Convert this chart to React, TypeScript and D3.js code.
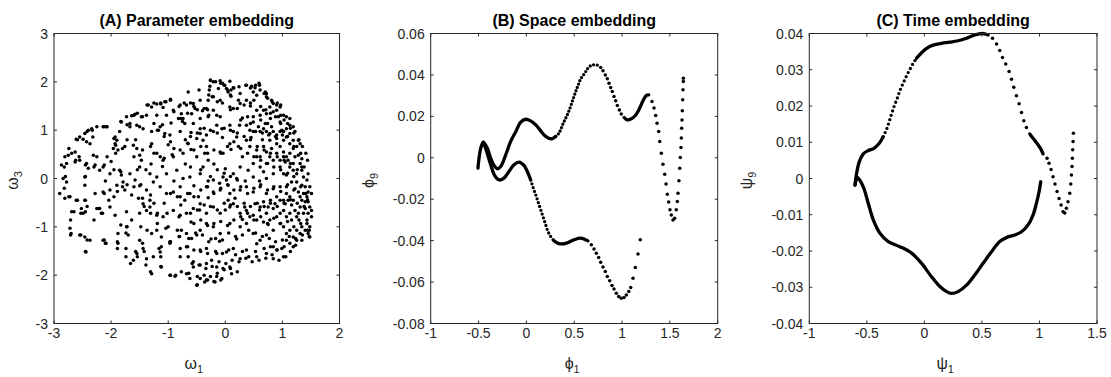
import React from 'react';
import * as d3 from 'd3';

type Pt = [number, number];

const WIDTH = 1111;
const HEIGHT = 377;
const TOP = 33.5;
const BOTTOM = 323.5;
const INK = '#262626';
const FONT = '"Liberation Sans", Arial, Helvetica, sans-serif';

// ---- (A) parameter embedding: omega_1 vs omega_3 scatter
const paramXTicks = [-3, -2, -1, 0, 1, 2];
const paramYTicks = [-3, -2, -1, 0, 1, 2, 3];
const paramPoints: Pt[] = [
  [-0.26, 2.03], [-0.21, 2.0], [-0.09, 2.02], [-0.05, 1.97], [-0.01, 1.93], [0.08, 2.01], [0.14, 1.88], [0.1, 1.83],
  [-0.12, 1.86], [0.02, 1.86], [0.05, 1.79], [-0.27, 1.91], [-0.28, 1.83], [0.37, 1.93], [0.46, 1.91], [0.52, 1.88],
  [0.6, 1.93], [0.61, 1.83], [0.55, 1.72], [0.7, 1.79], [0.72, 1.76], [0.49, 1.79], [0.26, 1.76], [0.23, 1.62],
  [0.37, 1.62], [-0.46, 1.83], [-0.65, 1.79], [-0.09, 1.62], [-0.21, 1.69], [-0.44, 1.62], [-0.3, 1.62],
  [-0.96, 1.64], [-1.06, 1.59], [-1.2, 1.54], [-1.13, 1.54], [-1.29, 1.48], [-1.35, 1.52], [-1.09, 1.47], [-0.79, 1.52],
  [-0.68, 1.52], [-0.56, 1.55], [-0.53, 1.45], [-0.33, 1.45], [-0.21, 1.41], [-0.15, 1.31], [0.08, 1.48], [0.14, 1.45],
  [0.26, 1.55], [0.44, 1.5], [0.55, 1.41], [0.72, 1.69], [0.81, 1.62], [0.84, 1.55], [0.9, 1.52], [0.96, 1.48],
  [0.78, 1.48], [0.67, 1.41], [-0.59, 1.34], [-0.77, 1.34], [-0.82, 1.24], [-0.74, 1.24], [-0.91, 1.41], [-1.03, 1.31],
  [-1.2, 1.31], [-1.38, 1.31], [-1.47, 1.28], [-1.58, 1.33], [-1.64, 1.3], [-1.73, 1.28], [-1.82, 1.17], [-1.67, 1.14],
  [-1.55, 1.1], [-0.44, 1.24], [-0.3, 1.28], [-0.09, 1.28],
  [-2.4, 1.0], [-2.34, 1.03], [-2.25, 1.07], [-2.14, 1.07], [-2.08, 1.07], [-2.46, 0.93], [-2.55, 0.86], [-2.61, 0.81],
  [-2.49, 0.81], [-2.43, 0.76], [-2.37, 0.72], [-2.32, 0.86], [-1.93, 0.86], [-1.9, 0.79], [-1.85, 0.97], [-1.67, 1.07],
  [-1.5, 1.07], [-1.44, 1.03], [-1.29, 0.97], [-1.17, 1.0], [-1.14, 1.07], [-1.06, 0.93], [-0.97, 0.9], [-0.79, 0.97],
  [-0.71, 1.14], [-0.56, 1.14], [-0.44, 1.03], [-0.44, 0.93], [-0.33, 0.9], [-0.21, 0.97], [-0.06, 1.03], [0.08, 1.1],
  [0.14, 0.97], [0.2, 0.86], [0.37, 1.1], [0.43, 1.0], [0.49, 0.97], [0.61, 0.97], [0.67, 1.03], [0.72, 0.97],
  [0.78, 0.93], [0.84, 0.97], [0.9, 0.9], [0.99, 1.0], [1.07, 1.03], [1.13, 1.1], [1.19, 1.07], [0.93, 1.28],
  [1.02, 1.31], [1.07, 1.28], [1.13, 1.24], [0.96, 1.17],
  [-2.81, 0.45], [-2.75, 0.48], [-2.69, 0.52], [-2.63, 0.55], [-2.78, 0.31], [-2.63, 0.34], [-2.55, 0.38], [-2.43, 0.31],
  [-2.4, 0.21], [-2.28, 0.28], [-2.2, 0.17], [-2.25, 0.45], [-2.31, 0.48], [-1.93, 0.72], [-1.96, 0.62], [-1.88, 0.59],
  [-1.76, 0.66], [-1.61, 0.69], [-1.55, 0.62], [-1.5, 0.48], [-1.47, 0.38], [-1.29, 0.72], [-1.2, 0.52], [-1.14, 0.45],
  [-1.09, 0.38], [-0.91, 0.45], [-0.79, 0.59], [-0.74, 0.52], [-0.65, 0.72], [-0.5, 0.83], [-0.39, 0.79], [-0.33, 0.66],
  [-0.36, 0.52], [-0.3, 0.38], [-0.09, 0.55], [-0.04, 0.52], [0.08, 0.72], [0.23, 0.66], [0.37, 0.79], [0.43, 0.66],
  [0.55, 0.59], [0.61, 0.45], [0.72, 0.55], [0.78, 0.45], [0.9, 0.72], [0.96, 0.66], [1.02, 0.55], [1.07, 0.45],
  [1.13, 0.52], [1.19, 0.62], [1.25, 0.66], [1.31, 0.72], [1.28, 0.48], [1.34, 0.41], [1.22, 0.45], [0.96, 0.38],
  [1.05, 0.34],
  [-2.87, 0.28], [-2.84, 0.0], [-2.78, -0.07], [-2.9, -0.31], [-2.81, -0.41], [-2.46, 0.03], [-2.46, -0.14], [-2.14, 0.24],
  [-2.02, 0.1], [-1.85, 0.17], [-1.82, 0.07], [-1.79, -0.07], [-1.67, 0.1], [-1.58, -0.03], [-1.5, 0.24], [-1.32, 0.1],
  [-1.26, -0.07], [-1.2, 0.03], [-1.03, 0.1], [-0.85, 0.17], [-0.74, 0.0], [-0.62, 0.03], [-0.44, 0.1], [-0.39, 0.24],
  [-0.21, -0.03], [-0.04, 0.03], [0.02, -0.03], [0.05, -0.14], [0.14, 0.1], [0.26, 0.24], [0.4, 0.17], [0.49, 0.03],
  [0.67, 0.14], [0.72, 0.0], [0.84, 0.1], [0.96, 0.24], [1.02, 0.1], [1.13, 0.24], [1.19, 0.17], [1.07, 0.07],
  [1.25, 0.1], [1.34, 0.17], [1.37, 0.03], [1.43, -0.03], [1.45, 0.1],
  [-2.72, -0.38], [-2.61, -0.45], [-2.46, -0.45], [-2.28, -0.31], [-2.14, -0.28], [-2.02, -0.24], [-1.9, -0.14], [-1.76, -0.24],
  [-1.64, -0.34], [-1.52, -0.41], [-1.44, -0.52], [-1.32, -0.45], [-1.38, -0.24], [-1.14, -0.17], [-1.03, -0.31], [-0.91, -0.28],
  [-0.79, -0.17], [-0.79, -0.38], [-0.71, -0.45], [-0.62, -0.31], [-0.47, -0.38], [-0.33, -0.17], [-0.21, -0.28], [-0.09, -0.24],
  [0.08, -0.31], [0.17, -0.41], [0.26, -0.24], [0.37, -0.17], [0.49, -0.28], [0.61, -0.17], [0.72, -0.31], [0.84, -0.21],
  [0.96, -0.17], [1.07, -0.31], [1.13, -0.38], [1.22, -0.21], [1.28, -0.28], [1.37, -0.31], [1.43, -0.38], [1.45, -0.48],
  [1.48, -0.59], [1.4, -0.17], [1.19, -0.45],
  [-2.69, -0.69], [-2.52, -0.62], [-2.49, -0.72], [-2.25, -0.62], [-2.2, -0.62], [-2.17, -0.72], [-2.02, -0.59], [-1.93, -0.76],
  [-1.73, -0.69], [-1.64, -0.86], [-1.5, -0.72], [-1.38, -0.66], [-1.32, -0.59], [-1.2, -0.76], [-1.09, -0.79], [-0.91, -0.66],
  [-0.79, -0.76], [-0.68, -0.72], [-0.56, -0.62], [-0.44, -0.52], [-0.33, -0.72], [-0.21, -0.59], [-0.09, -0.72], [0.08, -0.59],
  [0.14, -0.52], [0.26, -0.72], [0.37, -0.66], [0.49, -0.76], [0.61, -0.59], [0.72, -0.72], [0.84, -0.62], [0.96, -0.72],
  [1.07, -0.79], [1.16, -0.86], [1.25, -0.79], [1.37, -0.72], [1.43, -0.86], [1.51, -0.79],
  [-2.72, -1.03], [-2.7, -1.14], [-2.55, -1.17], [-2.46, -1.21], [-2.37, -1.28], [-2.44, -1.52], [-2.14, -1.28], [-2.09, -1.34],
  [-1.88, -1.14], [-1.73, -1.0], [-1.7, -1.17], [-1.5, -1.28], [-1.29, -1.14], [-1.2, -1.07], [-1.12, -1.21], [-0.97, -1.31],
  [-0.77, -1.07], [-0.68, -1.14], [-0.59, -1.24], [-0.5, -1.17], [-0.44, -1.07], [-0.33, -0.93], [-0.21, -1.0], [-0.09, -1.14],
  [0.08, -0.93], [0.26, -1.0], [0.37, -0.93], [0.49, -1.14], [0.61, -1.28], [0.72, -1.17], [0.84, -1.07], [0.96, -0.93],
  [1.02, -1.0], [1.07, -1.14], [1.13, -1.07], [1.19, -1.21], [1.25, -1.07], [1.34, -1.0], [1.45, -1.14], [1.48, -1.21],
  [1.07, -1.28], [1.19, -1.41],
  [-1.88, -1.34], [-1.74, -1.62], [-1.55, -1.55], [-1.44, -1.45], [-1.26, -1.62], [-1.14, -1.52], [-1.12, -1.41], [-0.97, -1.34],
  [-0.79, -1.45], [-0.68, -1.41], [-0.65, -1.62], [-0.56, -1.72], [-0.44, -1.48], [-0.33, -1.45], [-0.15, -1.55], [0.02, -1.52],
  [0.14, -1.45], [0.26, -1.66], [0.37, -1.48], [0.55, -1.62], [0.72, -1.55], [0.84, -1.41], [0.9, -1.48], [0.99, -1.45],
  [1.02, -1.62], [0.84, -1.66], [-0.79, -1.62],
  [-1.61, -1.69], [-1.38, -1.66], [-1.29, -1.97], [-1.12, -1.83], [-0.97, -2.0], [-0.88, -2.02], [-0.77, -1.93], [-0.68, -1.97],
  [-0.56, -1.83], [-0.44, -1.79], [-0.33, -1.76], [-0.24, -1.69], [-0.15, -1.83], [-0.04, -1.86], [0.08, -1.83], [0.11, -1.97],
  [-0.15, -2.03], [-0.33, -2.1], [-0.44, -2.07], [-0.5, -2.21], [-0.36, -2.14], [-0.18, -2.14], [-0.06, -2.07], [-0.62, -2.07],
  [1.34, -0.45], [1.31, -0.59], [1.4, -0.62], [1.28, -0.72], [1.22, -0.66], [1.16, -0.55], [1.1, -0.45], [1.05, -0.52],
  [0.96, -0.45], [0.9, -0.38], [0.79, -0.45], [1.07, -0.17], [1.16, -0.07], [1.25, -0.07], [1.34, -0.14], [1.48, -0.17],
  [1.51, -0.31], [1.45, -0.28], [1.34, 0.24], [1.31, 0.31], [1.19, 0.31], [1.1, 0.38], [1.02, 0.45], [0.9, 0.52],
  [0.81, 0.62], [0.84, 0.38], [0.72, 0.31], [0.61, 0.24], [0.49, 0.31], [0.55, 0.45], [0.67, 0.66], [0.78, 0.79],
  [0.9, 0.83], [1.02, 0.79], [1.07, 0.86], [1.19, 0.79], [1.28, 0.79], [1.13, 0.72], [0.96, 0.97], [0.81, 1.07],
  [0.7, 1.14], [0.58, 1.07], [0.49, 1.17], [0.49, 1.28], [0.61, 1.31], [0.72, 1.34], [0.84, 1.38], [0.9, 1.41],
  [0.79, 1.24], [1.02, 0.97], [1.13, 0.93], [1.22, 0.97], [1.48, -1.0], [1.47, -1.07], [1.43, -0.93], [1.31, -1.14],
  [1.25, -1.28], [1.13, -1.34], [1.34, -1.28], [1.4, -1.07], [1.29, -0.86], [1.13, -0.72], [1.02, -0.66], [0.9, -0.79],
  [0.78, -0.86], [0.67, -0.9], [0.55, -0.86], [0.43, -0.79], [0.34, -0.59], [0.52, -0.52], [0.67, -0.48], [0.75, -0.59],
  [0.87, -0.52], [1.02, -0.45], [1.31, -0.38], [1.4, -0.48], [1.45, -0.72], [1.51, -0.66],
  [-0.6, 0.6], [-0.5, 0.45], [-0.2, 0.3], [0.0, 0.2], [0.3, 0.45], [0.2, 0.0], [-0.1, -0.1], [0.35, -0.05],
  [0.6, -0.05], [-0.3, -0.05], [-0.55, -0.15], [-0.9, -0.05], [-1.1, 0.25], [-0.7, 0.3], [-0.05, 0.85], [0.45, 0.85],
  [0.3, 1.25], [-0.15, 1.1], [-0.6, 0.95], [-0.95, 1.15], [-1.3, 0.3], [-1.6, 0.45], [-2.0, 0.35], [-2.1, -0.05],
  [-1.5, -0.15], [-0.45, -0.65], [0.05, -0.45], [0.3, -0.85], [-0.1, -1.3], [0.2, -1.25], [0.55, -1.35], [-0.25, -1.25],
  [-0.6, -0.9], [-1.0, -1.0], [-0.3, -0.4], [0.0, -0.65], [0.6, -0.65], [-0.8, -1.2], [0.75, -0.95], [0.1, 0.6],
  [-0.4, 1.4], [0.1, 1.7], [-0.7, 0.8], [-1.0, 0.7], [0.65, 0.8], [0.25, 1.1],
];
// second pass over the denser right half
const paramPointsRight: Pt[] = [
  [-0.26, 2.04], [-0.17, 2.0], [-0.08, 1.97], [-0.02, 1.93], [0.04, 1.83], [0.09, 1.73], [0.15, 1.87], [0.24, 1.9],
  [0.36, 1.93], [0.44, 1.87], [0.53, 1.93], [0.59, 1.97], [0.68, 1.76], [0.74, 1.66], [0.82, 1.59], [0.91, 1.56],
  [0.97, 1.52], [-0.29, 1.73], [-0.23, 1.69], [-0.14, 1.59], [-0.05, 1.56], [-0.61, 1.56], [-0.55, 1.49], [-0.66, 1.35],
  [-0.49, 1.42], [-0.37, 1.45], [-0.31, 1.42], [-0.29, 1.31], [0.09, 1.42], [0.21, 1.45], [0.33, 1.52], [0.44, 1.56],
  [0.5, 1.62], [0.62, 1.49], [0.71, 1.42], [0.79, 1.35], [0.88, 1.28], [0.97, 1.31], [1.03, 1.21], [1.09, 1.14],
  [1.14, 1.04], [1.2, 0.94], [1.29, 0.8], [1.35, 0.66], [1.41, 0.52], [1.44, 0.38], [1.38, 0.24], [1.26, 0.18],
  [1.14, 0.31], [1.03, 0.38], [0.91, 0.45], [0.79, 0.52], [0.68, 0.59], [0.56, 0.66], [0.44, 0.8], [0.33, 0.87],
  [0.21, 0.94], [0.09, 1.0], [-0.02, 1.04], [-0.14, 0.94], [-0.26, 1.0], [-0.37, 1.04], [-0.49, 0.94], [-0.61, 0.87],
  [-0.66, 0.73], [-0.55, 0.59], [-0.43, 0.66], [-0.31, 0.52], [-0.2, 0.59], [-0.08, 0.52], [0.04, 0.66], [0.15, 0.76],
  [0.27, 0.62], [0.39, 0.52], [0.5, 0.45], [0.62, 0.38], [0.74, 0.31], [0.85, 0.24], [0.97, 0.18], [1.09, 0.11],
  [1.2, 0.04], [-0.14, 0.18], [-0.02, 0.11], [0.09, 0.04], [0.21, -0.03], [-0.26, 0.04], [-0.43, 0.18], [-0.61, 0.24],
  [0.53, 0.97], [0.65, 0.94], [0.76, 0.9], [0.88, 0.87], [1.0, 0.9], [1.09, 0.87], [1.2, 0.66], [1.32, 0.52],
  [0.97, 1.14], [0.74, 1.14], [0.62, 1.21], [0.44, 1.14], [0.39, 1.28], [0.27, 1.21],
  [-0.66, -0.31], [-0.55, -0.38], [-0.43, -0.24], [-0.31, -0.17], [-0.2, -0.31], [-0.08, -0.2], [0.04, -0.13], [0.15, -0.24],
  [0.27, -0.17], [0.39, -0.31], [0.5, -0.2], [0.62, -0.13], [0.74, -0.24], [0.85, -0.17], [0.97, -0.27], [1.09, -0.13],
  [1.2, -0.24], [1.32, -0.17], [1.41, -0.31], [1.44, -0.44], [1.38, -0.58], [1.26, -0.51], [1.14, -0.44], [1.03, -0.51],
  [0.91, -0.58], [0.79, -0.51], [0.68, -0.58], [0.56, -0.51], [0.44, -0.58], [0.33, -0.51], [0.21, -0.58], [0.09, -0.55],
  [-0.02, -0.51], [-0.14, -0.65], [-0.26, -0.58], [-0.37, -0.55], [-0.49, -0.65], [-0.61, -0.72], [-0.55, -0.93], [-0.43, -0.86],
  [-0.31, -0.97], [-0.2, -0.93], [-0.08, -0.89], [0.04, -0.97], [0.15, -0.86], [0.27, -0.79], [0.39, -0.72], [0.5, -0.86],
  [0.62, -0.79], [0.74, -0.93], [0.85, -0.82], [0.97, -0.93], [1.09, -0.89], [1.2, -1.0], [1.32, -0.93], [1.44, -1.07],
  [1.47, -1.2], [1.35, -1.17], [1.23, -1.24], [1.12, -1.2], [1.0, -1.27], [0.88, -1.31], [0.77, -1.24], [0.65, -1.2],
  [0.53, -1.13], [0.41, -1.07], [0.3, -1.17], [0.18, -1.2], [0.06, -1.13], [-0.05, -1.27], [-0.17, -1.24], [-0.29, -1.31],
  [-0.4, -1.17], [-0.52, -1.13], [-0.64, -1.24], [-0.66, -1.41], [-0.55, -1.48], [-0.43, -1.51], [-0.31, -1.55], [-0.17, -1.51],
  [-0.05, -1.55], [0.06, -1.48], [0.18, -1.58], [0.3, -1.51], [0.41, -1.62], [0.53, -1.51], [0.68, -1.45], [0.79, -1.41],
  [0.91, -1.48], [1.03, -1.41], [1.14, -1.51], [1.23, -1.38], [1.06, -1.62], [0.94, -1.69], [0.82, -1.58], [0.71, -1.65],
  [0.59, -1.69], [0.47, -1.72], [0.36, -1.65], [0.24, -1.72], [0.12, -1.69], [0.01, -1.76], [-0.11, -1.72], [-0.23, -1.82],
  [-0.34, -1.86], [-0.46, -1.79], [-0.58, -1.76], [-0.64, -1.96], [-0.49, -2.03], [-0.37, -2.0], [-0.26, -2.03], [-0.14, -1.96],
  [-0.02, -1.89], [0.09, -1.86], [0.21, -1.93], [-0.08, -2.1], [-0.2, -2.13], [-0.31, -2.1], [-0.49, -2.2],
];
// second pass over the sparser left half
const paramPointsLeft: Pt[] = [
  [-2.82, 0.24], [-2.74, 0.62], [-2.62, 0.38], [-2.59, 0.8], [-2.42, 0.97], [-2.33, 1.0], [-2.12, 1.07], [-2.07, 1.07],
  [-1.95, 0.83], [-1.92, 0.69], [-1.83, 1.18], [-1.72, 1.11], [-1.6, 1.31], [-1.54, 1.35], [-1.45, 1.28], [-1.37, 1.52],
  [-1.25, 1.56], [-1.13, 1.56], [-1.04, 1.59], [-0.96, 1.62], [-0.9, 1.38], [-0.81, 1.49], [-0.78, 1.24], [-0.75, 1.18],
  [-0.72, 1.56], [-1.25, 1.14], [-1.19, 1.0], [-1.1, 1.11], [-1.07, 0.87], [-0.96, 0.76], [-0.9, 0.62], [-0.93, 0.49],
  [-1.07, 0.42], [-1.25, 0.52], [-1.31, 0.66], [-1.45, 0.59], [-1.57, 0.8], [-1.72, 0.8], [-1.8, 0.62], [-1.92, 0.52],
  [-2.07, 0.45], [-2.12, 0.28], [-2.3, 0.24], [-2.45, 0.28], [-2.56, 0.45], [-2.8, 0.04], [-2.45, 0.04], [-1.95, 0.18],
  [-1.83, 0.14], [-1.54, 0.18], [-1.39, 0.18],
  [-2.82, -0.2], [-2.74, -0.38], [-2.59, -0.45], [-2.45, -0.45], [-2.42, -0.58], [-2.65, -0.69], [-2.53, -0.72], [-2.45, -0.69],
  [-2.71, -0.86], [-2.71, -1.17], [-2.53, -1.17], [-2.42, -1.27], [-2.45, -1.51], [-2.21, -0.62], [-2.15, -0.72], [-2.12, -0.31],
  [-2.04, -0.45], [-1.95, -0.38], [-1.89, -0.27], [-1.8, -0.17], [-1.72, -0.13], [-1.6, -0.17], [-1.48, -0.13], [-1.45, -0.41],
  [-1.42, -0.58], [-1.31, -0.34], [-1.25, -0.51], [-1.19, -0.72], [-1.07, -0.51], [-1.02, -0.72], [-0.96, -0.31], [-0.84, -0.38],
  [-0.78, -0.55], [-0.81, -0.79], [-0.84, -1.07], [-0.81, -1.2], [-0.96, -1.31], [-1.04, -1.03], [-1.19, -0.93], [-1.31, -0.72],
  [-1.37, -1.07], [-1.48, -1.0], [-1.72, -1.0], [-1.83, -0.96], [-1.74, -1.13], [-1.89, -1.31], [-1.89, -1.45], [-1.74, -1.45],
  [-1.57, -1.51], [-1.45, -1.34], [-1.42, -1.51], [-1.54, -1.62], [-1.66, -1.76], [-1.39, -1.79], [-1.31, -1.93], [-1.13, -1.82],
  [-1.16, -1.45], [-1.13, -1.62], [-0.96, -2.0], [-0.87, -2.0], [-2.3, -0.86], [-2.12, -1.27], [-2.1, -1.34],
];

// ---- (B) space embedding: phi_1 vs phi_9
const spaceXTicks = [-1, -0.5, 0, 0.5, 1, 1.5, 2];
const spaceYTicks = [-0.08, -0.06, -0.04, -0.02, 0, 0.02, 0.04, 0.06];
const spaceUpperSolid: Pt[] = [
  [-0.506, -0.005], [-0.495, -0.0002], [-0.477, 0.0046], [-0.45, 0.0076], [-0.408, 0.0046], [-0.373, -0.0002],
  [-0.338, -0.0037], [-0.304, -0.0053], [-0.268, -0.0042], [-0.216, 0.0014], [-0.164, 0.0079], [-0.112, 0.0125],
  [-0.059, 0.0172], [-0.007, 0.0186], [0.045, 0.0178], [0.098, 0.0159], [0.15, 0.013], [0.202, 0.0103],
  [0.261, 0.0091], [0.306, 0.0103],
];
const spaceUpperFine: Pt[] = [
  [0.306, 0.0103], [0.341, 0.0119], [0.365, 0.0143], [0.386, 0.0167], [0.411, 0.0191], [0.435, 0.0215],
  [0.456, 0.024], [0.48, 0.0272], [0.498, 0.0296], [0.522, 0.0328], [0.543, 0.0352], [0.568, 0.0381],
  [0.61, 0.0408], [0.644, 0.0433], [0.679, 0.0446], [0.714, 0.0449], [0.749, 0.0446],
];
const spaceUpperDots: Pt[] = [
  [0.777, 0.0436], [0.801, 0.042], [0.825, 0.04], [0.846, 0.0381], [0.864, 0.036], [0.881, 0.0339],
  [0.898, 0.032], [0.916, 0.0296], [0.934, 0.0275], [0.951, 0.0252], [0.972, 0.0231], [0.992, 0.0211],
];
const spaceUpperSolid2: Pt[] = [
  [1.021, 0.0195], [1.055, 0.0183], [1.097, 0.0188], [1.139, 0.0204], [1.185, 0.024], [1.219, 0.0275],
  [1.254, 0.0301], [1.279, 0.0304],
];
const spaceTailDots: Pt[] = [
  [1.313, 0.0272], [1.334, 0.024], [1.352, 0.0204], [1.366, 0.0167], [1.383, 0.0127], [1.394, 0.0079],
  [1.411, 0.0022], [1.428, -0.0031], [1.446, -0.0079], [1.46, -0.0127], [1.473, -0.0176], [1.488, -0.0214],
  [1.501, -0.0251], [1.515, -0.0276], [1.533, -0.03], [1.55, -0.0292], [1.567, -0.0251], [1.578, -0.0211],
  [1.585, -0.0171], [1.595, -0.0111], [1.603, -0.005], [1.609, 0.0001], [1.616, 0.005], [1.62, 0.0095],
  [1.623, 0.0143], [1.627, 0.0183], [1.63, 0.0227], [1.634, 0.028], [1.637, 0.0328], [1.641, 0.0368],
  [1.641, 0.0384],
];
const spaceLowerSolid: Pt[] = [
  [-0.45, 0.0075], [-0.415, 0.003], [-0.373, -0.0034], [-0.331, -0.0086], [-0.286, -0.0107], [-0.234, -0.0098],
  [-0.182, -0.0066], [-0.129, -0.0034], [-0.077, -0.0021], [-0.025, -0.0037], [0.01, -0.0066], [0.045, -0.0107],
];
const spaceLowerFine: Pt[] = [
  [0.045, -0.0107], [0.073, -0.0147], [0.098, -0.0179], [0.121, -0.0211], [0.15, -0.0251], [0.177, -0.0288],
  [0.202, -0.0324], [0.226, -0.0356], [0.254, -0.038], [0.289, -0.0401],
];
const spaceLowerSolid2: Pt[] = [
  [0.289, -0.0401], [0.341, -0.0414], [0.393, -0.0415], [0.446, -0.0407], [0.498, -0.0396], [0.568, -0.0388],
  [0.644, -0.0401],
];
const spaceLowerDots: Pt[] = [
  [0.679, -0.042], [0.707, -0.044], [0.731, -0.0461], [0.756, -0.0481], [0.777, -0.0504], [0.801, -0.0527],
  [0.825, -0.0549], [0.846, -0.0573], [0.871, -0.0594], [0.895, -0.0617], [0.916, -0.0634], [0.94, -0.0654],
  [0.965, -0.067], [0.992, -0.0678], [1.021, -0.0675], [1.045, -0.0662], [1.07, -0.0646], [1.091, -0.0626],
  [1.115, -0.0581], [1.139, -0.053], [1.167, -0.0465], [1.191, -0.0396],
];

// ---- (C) time embedding: psi_1 vs psi_9
const timeXTicks = [-1, -0.5, 0, 0.5, 1, 1.5];
const timeYTicks = [-0.04, -0.03, -0.02, -0.01, 0, 0.01, 0.02, 0.03, 0.04];
const timeUpperSolid: Pt[] = [
  [-0.603, -0.0018], [-0.589, 0.0014], [-0.566, 0.0046], [-0.531, 0.0068], [-0.488, 0.0077], [-0.438, 0.0083],
  [-0.392, 0.0097], [-0.358, 0.0115],
];
const timeUpperFine: Pt[] = [
  [-0.358, 0.0115], [-0.328, 0.0136], [-0.306, 0.0157], [-0.285, 0.0178], [-0.262, 0.02], [-0.236, 0.0221],
  [-0.213, 0.0242], [-0.184, 0.0263], [-0.155, 0.0283], [-0.126, 0.0301], [-0.097, 0.0318], [-0.068, 0.0332],
];
const timeUpperSolid2: Pt[] = [
  [-0.068, 0.0332], [-0.024, 0.0347], [0.019, 0.0359], [0.076, 0.0368], [0.149, 0.0373], [0.221, 0.0376],
  [0.293, 0.038], [0.366, 0.0387], [0.438, 0.0396], [0.505, 0.04], [0.554, 0.0396],
];
const timeUpperDots: Pt[] = [
  [0.592, 0.0387], [0.627, 0.0371], [0.655, 0.0353], [0.679, 0.0334], [0.707, 0.0316], [0.736, 0.0295],
  [0.757, 0.0274], [0.777, 0.0252], [0.8, 0.0228], [0.823, 0.0206], [0.844, 0.0182], [0.864, 0.0159],
  [0.887, 0.0141],
];
const timeUpperSolid3: Pt[] = [
  [0.916, 0.0123], [0.944, 0.0111], [0.974, 0.0099], [1.009, 0.0083], [1.031, 0.0068],
];
const timeTailDots: Pt[] = [
  [1.066, 0.0056], [1.083, 0.0042], [1.101, 0.0025], [1.118, 0.0005], [1.135, -0.0015], [1.153, -0.0036],
  [1.17, -0.0055], [1.188, -0.0073], [1.205, -0.0092], [1.22, -0.0095], [1.234, -0.0082], [1.248, -0.0064],
  [1.263, -0.0041], [1.272, -0.0015], [1.278, 0.001], [1.283, 0.0033], [1.286, 0.0056], [1.289, 0.0079],
  [1.292, 0.0102], [1.295, 0.0125],
];
const timeLowerSolid: Pt[] = [
  [-0.603, -0.0018], [-0.585, 0.0003], [-0.575, 0.0001], [-0.531, -0.0023], [-0.488, -0.0068], [-0.444, -0.0114],
  [-0.386, -0.0151], [-0.314, -0.0174], [-0.213, -0.0188], [-0.111, -0.0206], [-0.024, -0.0234], [0.062, -0.0271],
  [0.135, -0.0298], [0.193, -0.0312], [0.236, -0.0317], [0.293, -0.0312], [0.366, -0.0294], [0.438, -0.0266],
  [0.51, -0.0234], [0.583, -0.0202], [0.655, -0.0174], [0.727, -0.0161], [0.786, -0.0156], [0.844, -0.0147],
  [0.901, -0.0128], [0.944, -0.0101], [0.974, -0.0068], [0.997, -0.0036], [1.011, -0.0009],
];

type Kind = 'solid' | 'fine' | 'dots';
interface Trace { pts: Pt[]; kind: Kind; gap?: number }

const spaceTraces: Trace[] = [
  { pts: spaceUpperSolid, kind: 'solid' },
  { pts: spaceUpperFine, kind: 'fine', gap: 3.6 },
  { pts: spaceUpperDots, kind: 'dots' },
  { pts: spaceUpperSolid2, kind: 'solid' },
  { pts: spaceTailDots, kind: 'dots' },
  { pts: spaceLowerSolid, kind: 'solid' },
  { pts: spaceLowerFine, kind: 'fine', gap: 4 },
  { pts: spaceLowerSolid2, kind: 'solid' },
  { pts: spaceLowerDots, kind: 'dots' },
];

const timeTraces: Trace[] = [
  { pts: timeUpperSolid, kind: 'solid' },
  { pts: timeUpperFine, kind: 'fine', gap: 4.6 },
  { pts: timeUpperSolid2, kind: 'solid' },
  { pts: timeUpperDots, kind: 'dots' },
  { pts: timeUpperSolid3, kind: 'solid' },
  { pts: timeTailDots, kind: 'dots' },
  { pts: timeLowerSolid, kind: 'solid' },
];

type Scale = d3.ScaleLinear<number, number>;

function TraceMark({ t, sx, sy }: { t: Trace; sx: Scale; sy: Scale }) {
  if (t.kind === 'dots') {
    return (
      <g>
        {t.pts.map((d, i) => (
          <circle key={i} cx={sx(d[0])} cy={sy(d[1])} r={1.75} fill="#000" />
        ))}
      </g>
    );
  }
  const line = d3.line<Pt>()
    .x(d => sx(d[0]))
    .y(d => sy(d[1]))
    .curve(d3.curveCatmullRom.alpha(0.5));
  return (
    <path
      d={line(t.pts) || ''}
      fill="none"
      stroke="#000"
      strokeWidth={t.kind === 'solid' ? 3.3 : 3.3}
      strokeLinecap="round"
      strokeLinejoin="round"
      strokeDasharray={t.kind === 'fine' ? `0 ${t.gap}` : undefined}
    />
  );
}

interface PanelProps {
  x0: number;
  x1: number;
  xDomain: [number, number];
  yDomain: [number, number];
  xTicks: number[];
  yTicks: number[];
  title: string;
  xSym: string;
  xSub: string;
  ySym: string;
  ySub: string;
  yLabelX: number;
  xLabelShift: number;
  render: (sx: Scale, sy: Scale) => React.ReactNode;
}

function Panel(p: PanelProps) {
  const sx = d3.scaleLinear().domain(p.xDomain).range([p.x0, p.x1]);
  const sy = d3.scaleLinear().domain(p.yDomain).range([BOTTOM, TOP]);
  const tick = 3;
  const cx = (p.x0 + p.x1) / 2;
  const cy = (TOP + BOTTOM) / 2;
  return (
    <g>
      {p.render(sx, sy)}
      <rect x={p.x0} y={TOP} width={p.x1 - p.x0} height={BOTTOM - TOP} fill="none" stroke={INK} strokeWidth={1} />
      {p.xTicks.map(t => (
        <g key={'x' + t}>
          <line x1={sx(t)} x2={sx(t)} y1={BOTTOM} y2={BOTTOM - tick} stroke={INK} />
          <line x1={sx(t)} x2={sx(t)} y1={TOP} y2={TOP + tick} stroke={INK} />
          <text x={sx(t)} y={BOTTOM + 14} textAnchor="middle" fontSize={14} fill={INK}>{String(t)}</text>
        </g>
      ))}
      {p.yTicks.map(t => (
        <g key={'y' + t}>
          <line x1={p.x0} x2={p.x0 + tick} y1={sy(t)} y2={sy(t)} stroke={INK} />
          <line x1={p.x1} x2={p.x1 - tick} y1={sy(t)} y2={sy(t)} stroke={INK} />
          <text x={p.x0 - 6} y={sy(t)} dy="0.36em" textAnchor="end" fontSize={14} fill={INK}>{String(t)}</text>
        </g>
      ))}
      <text x={cx} y={26} textAnchor="middle" fontSize={16} fontWeight="bold" fill="#000">{p.title}</text>
      <text x={cx + p.xLabelShift} y={368.5} textAnchor="middle" fontSize={16} fill={INK}>
        {p.xSym}<tspan fontSize={11} dy={4}>{p.xSub}</tspan>
      </text>
      <text
        x={p.yLabelX}
        y={cy}
        transform={`rotate(-90, ${p.yLabelX}, ${cy})`}
        textAnchor="middle"
        fontSize={16}
        fill={INK}
      >
        <tspan x={p.yLabelX - 2} y={cy}>{p.ySym}</tspan><tspan fontSize={11} dy={4}>{p.ySub}</tspan>
      </text>
    </g>
  );
}

export default function App() {
  return (
    <div style={{ position: 'absolute', left: 0, top: 0, width: WIDTH, height: HEIGHT, background: '#fff' }}>
      <style>{'body{margin:0;background:#fff}'}</style>
      <svg width={WIDTH} height={HEIGHT} style={{ display: 'block', fontFamily: FONT }}>
        <rect width={WIDTH} height={HEIGHT} fill="#fff" />
        <Panel
          x0={54}
          x1={339.5}
          xDomain={[-3, 2]}
          yDomain={[-3, 3]}
          xTicks={paramXTicks}
          yTicks={paramYTicks}
          title="(A) Parameter embedding"
          xSym="ω"
          xSub="1"
          ySym="ω"
          ySub="3"
          yLabelX={17.5}
          xLabelShift={-3}
          render={(sx, sy) => (
            <g>
              {[...paramPoints, ...paramPointsRight, ...paramPointsLeft].map((d, i) => (
                <circle key={i} cx={sx(d[0])} cy={sy(d[1])} r={1.75} fill="#000" />
              ))}
            </g>
          )}
        />
        <Panel
          x0={430.7}
          x1={717.7}
          xDomain={[-1, 2]}
          yDomain={[-0.08, 0.06]}
          xTicks={spaceXTicks}
          yTicks={spaceYTicks}
          title="(B) Space embedding"
          xSym="ϕ"
          xSub="1"
          ySym="ϕ"
          ySub="9"
          yLabelX={374}
          xLabelShift={-2}
          render={(sx, sy) => (
            <g>{spaceTraces.map((t, i) => <TraceMark key={i} t={t} sx={sx} sy={sy} />)}</g>
          )}
        />
        <Panel
          x0={809.3}
          x1={1097}
          xDomain={[-1, 1.5]}
          yDomain={[-0.04, 0.04]}
          xTicks={timeXTicks}
          yTicks={timeYTicks}
          title="(C) Time embedding"
          xSym="ψ"
          xSub="1"
          ySym="ψ"
          ySub="9"
          yLabelX={752}
          xLabelShift={-8}
          render={(sx, sy) => (
            <g>{timeTraces.map((t, i) => <TraceMark key={i} t={t} sx={sx} sy={sy} />)}</g>
          )}
        />
      </svg>
    </div>
  );
}
